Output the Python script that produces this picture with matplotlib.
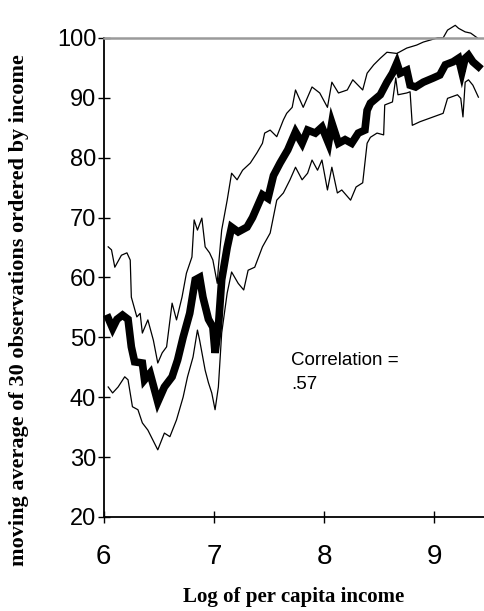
import matplotlib
matplotlib.use('Agg')
import matplotlib.pyplot as plt


# moving average (thick line)
x_mid = [6.04, 6.08, 6.12, 6.17, 6.22, 6.25, 6.28, 6.35, 6.37, 6.42, 6.49, 6.55,
         6.62, 6.67, 6.72, 6.78, 6.83, 6.87, 6.90, 6.95, 6.99, 7.01, 7.04, 7.07,
         7.12, 7.16, 7.22, 7.30, 7.35, 7.44, 7.49, 7.54, 7.60, 7.67, 7.74, 7.80,
         7.85, 7.92, 7.98, 8.04, 8.07, 8.13, 8.19, 8.25, 8.31, 8.37, 8.39, 8.42,
         8.51, 8.57, 8.62, 8.66, 8.69, 8.75, 8.78, 8.83, 8.90, 8.99, 9.05, 9.10,
         9.17, 9.22, 9.25, 9.28, 9.31, 9.35, 9.40]
y_mid = [53.2, 51.5, 53.0, 53.7, 53.0, 48.4, 45.9, 45.7, 42.9, 44.0, 39.2, 41.7,
         43.4, 46.2, 50.0, 54.0, 59.6, 60.0, 56.7, 53.0, 51.7, 47.4, 51.7, 59.6,
         65.0, 68.4, 67.6, 68.4, 70.0, 73.8, 73.2, 77.0, 79.1, 81.3, 84.3, 82.4,
         84.6, 84.1, 85.1, 82.4, 85.8, 82.4, 83.0, 82.4, 84.1, 84.6, 87.9, 89.1,
         90.5, 92.6, 94.1, 95.8, 94.1, 94.6, 92.1, 91.8, 92.6, 93.3, 93.8, 95.5,
         96.0, 96.6, 94.3, 96.6, 97.1, 96.0, 95.2]

# upper band
x_up = [6.04, 6.07, 6.10, 6.16, 6.21, 6.24, 6.25, 6.30, 6.33, 6.35, 6.40, 6.45,
        6.49, 6.53, 6.57, 6.62, 6.66, 6.71, 6.75, 6.80, 6.82, 6.85, 6.89, 6.92,
        6.96, 6.99, 7.03, 7.04, 7.07, 7.12, 7.16, 7.21, 7.26, 7.33, 7.39, 7.44,
        7.46, 7.51, 7.57, 7.63, 7.66, 7.71, 7.74, 7.81, 7.89, 7.96, 8.03, 8.07,
        8.13, 8.21, 8.26, 8.35, 8.39, 8.45, 8.51, 8.57, 8.66, 8.75, 8.84, 8.90,
        9.03, 9.08, 9.12, 9.19, 9.22, 9.28, 9.33, 9.39]
y_up = [65.1, 64.6, 61.7, 63.7, 64.1, 62.9, 56.7, 53.4, 54.0, 50.7, 52.9, 49.5,
        45.7, 47.4, 48.4, 55.7, 52.9, 56.7, 60.7, 63.4, 69.6, 67.9, 69.9, 65.1,
        64.1, 62.9, 59.0, 61.7, 67.9, 72.9, 77.4, 76.3, 77.9, 79.1, 80.8, 82.4,
        84.1, 84.6, 83.5, 86.3, 87.4, 88.4, 91.3, 88.4, 91.8, 90.8, 88.4, 92.6,
        90.8, 91.3, 93.0, 91.3, 94.1, 95.5, 96.6, 97.6, 97.4, 98.3, 98.8, 99.3,
        100.0, 100.0, 101.3, 102.1, 101.6, 101.0, 100.8, 100.0]

# lower band
x_lo = [6.04, 6.08, 6.13, 6.19, 6.22, 6.26, 6.31, 6.35, 6.40, 6.49, 6.55, 6.60,
        6.66, 6.72, 6.76, 6.81, 6.85, 6.87, 6.92, 6.95, 6.98, 7.01, 7.04, 7.07,
        7.12, 7.16, 7.22, 7.27, 7.31, 7.37, 7.44, 7.51, 7.57, 7.63, 7.69, 7.74,
        7.80, 7.85, 7.89, 7.94, 7.98, 8.03, 8.07, 8.12, 8.16, 8.24, 8.29, 8.35,
        8.39, 8.42, 8.48, 8.54, 8.55, 8.62, 8.65, 8.67, 8.75, 8.78, 8.80, 8.87,
        8.96, 9.08, 9.12, 9.21, 9.24, 9.26, 9.28, 9.31, 9.35, 9.40]
y_lo = [41.7, 40.7, 41.7, 43.4, 42.9, 38.4, 37.9, 35.7, 34.5, 31.2, 34.0, 33.4,
        36.2, 40.0, 43.4, 46.7, 51.2, 49.5, 44.5, 42.4, 40.7, 37.9, 41.7, 50.7,
        57.4, 60.9, 59.0, 57.9, 61.2, 61.7, 65.1, 67.4, 72.9, 74.1, 76.3, 78.4,
        76.3, 77.4, 79.6, 77.9, 79.6, 74.6, 78.4, 74.1, 74.6, 72.9, 75.1, 75.8,
        82.4, 83.4, 84.1, 83.8, 88.8, 89.3, 93.3, 90.5, 90.8, 91.0, 85.4, 86.0,
        86.6, 87.4, 89.9, 90.5, 89.9, 86.8, 92.6, 93.0, 92.1, 90.1]

x_ticks = [6, 7, 8, 9]
y_ticks = [20, 30, 40, 50, 60, 70, 80, 90, 100]

fig = plt.figure(figsize=(4.85, 6.11), dpi=100)
ax = fig.add_axes([0.214, 0.154, 0.786, 0.784])

ax.plot(x_up, y_up, color='black', linewidth=0.9, clip_on=False)
ax.plot(x_lo, y_lo, color='black', linewidth=0.9, clip_on=False)
ax.plot(x_mid, y_mid, color='black', linewidth=5.5, solid_joinstyle='miter',
        clip_on=False)

ax.set_xlim(6, 9.46)
ax.set_ylim(20, 100)
ax.set_xticks(x_ticks)
ax.set_yticks(y_ticks)
ax.tick_params(axis='x', direction='inout', length=9, width=1,
               labelsize=20, pad=15)
ax.tick_params(axis='y', direction='inout', length=9, width=1,
               labelsize=17, pad=1)
for lab in ax.get_xticklabels() + ax.get_yticklabels():
    lab.set_fontfamily('Liberation Sans')

ax.spines['right'].set_visible(False)
ax.spines['top'].set_color('#9a9a9a')
ax.spines['top'].set_linewidth(1.8)
ax.spines['left'].set_linewidth(1.3)
ax.spines['bottom'].set_linewidth(1.3)

ax.text(7.70, 47.6, 'Correlation =\n.57', fontsize=13.5, family='Liberation Sans',
        va='top', ha='left', linespacing=1.6)

ax.set_xlabel('Log of per capita income', family='Liberation Serif',
              fontweight='bold', fontsize=15)
ax.xaxis.set_label_coords(0.498, -0.146)
ax.set_ylabel('moving average of 30 observations ordered by income',
              family='Liberation Serif', fontweight='bold', fontsize=16)
ax.yaxis.set_label_coords(-0.196, 0.432)

plt.savefig('out.png', dpi=100)
